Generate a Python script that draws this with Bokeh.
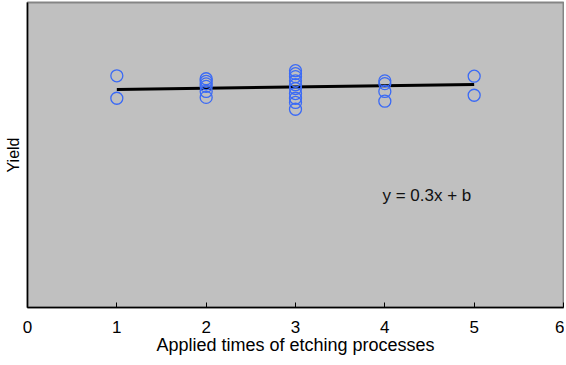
from bokeh.plotting import figure
from bokeh.models import Range1d, Label, FixedTicker
from bokeh.embed import file_html
from bokeh.resources import INLINE

# data
times = [1, 1,
         2, 2, 2, 2, 2, 2,
         3, 3, 3, 3, 3, 3, 3, 3, 3, 3,
         4, 4, 4, 4,
         5, 5]
yields = [84.7, 79.4,
          84.0, 83.4, 82.8, 82.2, 81.0, 79.6,
          85.9, 85.2, 84.5, 83.5, 82.6, 81.7, 80.5, 79.4, 78.4, 76.8,
          83.5, 82.85, 81.0, 78.7,
          84.6, 80.1]
fit_slope = 0.3
fit_intercept = 81.16
fit_x = [1, 5]
x_ticks = [0, 1, 2, 3, 4, 5, 6]
x_title = "Applied times of etching processes"
y_title = "Yield"
eq_text = "y = 0.3x + b"

FONT = "Liberation Sans"

p = figure(width=564, height=357, output_backend="svg", toolbar_location=None,
           x_range=Range1d(0, 6), y_range=Range1d(30, 102),
           min_border_left=27, min_border_right=1, min_border_top=2, min_border_bottom=0)

p.background_fill_color = "#c0c0c0"
p.border_fill_color = "white"
p.outline_line_color = "#858585"
p.outline_line_width = 2
p.xgrid.visible = False
p.ygrid.visible = False

fit_y = [fit_slope * x + fit_intercept for x in fit_x]
p.line(fit_x, fit_y, line_color="black", line_width=3)
p.scatter(times, yields, marker="circle", size=12, fill_color=None,
          line_color="#3b6af5", line_width=1.3)

p.add_layout(Label(x=4.47, y=56.5, text=eq_text, text_align="center",
                   text_baseline="middle", text_font=FONT,
                   text_font_size="17px", text_color="#111111"))

xa = p.xaxis[0]
xa.ticker = FixedTicker(ticks=x_ticks)
xa.major_tick_in = 5
xa.major_tick_out = 0
xa.minor_tick_line_color = None
xa.axis_line_color = "black"
xa.axis_line_width = 1.5
xa.major_tick_line_color = "black"
xa.major_tick_line_width = 1
xa.major_label_standoff = 13
xa.major_label_text_font = FONT
xa.major_label_text_font_size = "17px"
xa.major_label_text_color = "black"
xa.axis_label = x_title
xa.axis_label_text_font = FONT
xa.axis_label_text_font_size = "18px"
xa.axis_label_text_font_style = "normal"
xa.axis_label_standoff = -1
xa.axis_label_text_color = "black"

ya = p.yaxis[0]
ya.ticker = FixedTicker(ticks=[])
ya.major_tick_line_color = None
ya.minor_tick_line_color = None
ya.major_tick_out = 0
ya.major_label_standoff = 0
ya.axis_line_color = "black"
ya.axis_line_width = 1.5
ya.axis_label = y_title
ya.axis_label_text_font = FONT
ya.axis_label_text_font_size = "16px"
ya.axis_label_text_font_style = "normal"
ya.axis_label_standoff = 6
ya.axis_label_text_color = "black"

open("out.html", "w").write(file_html(p, INLINE))
